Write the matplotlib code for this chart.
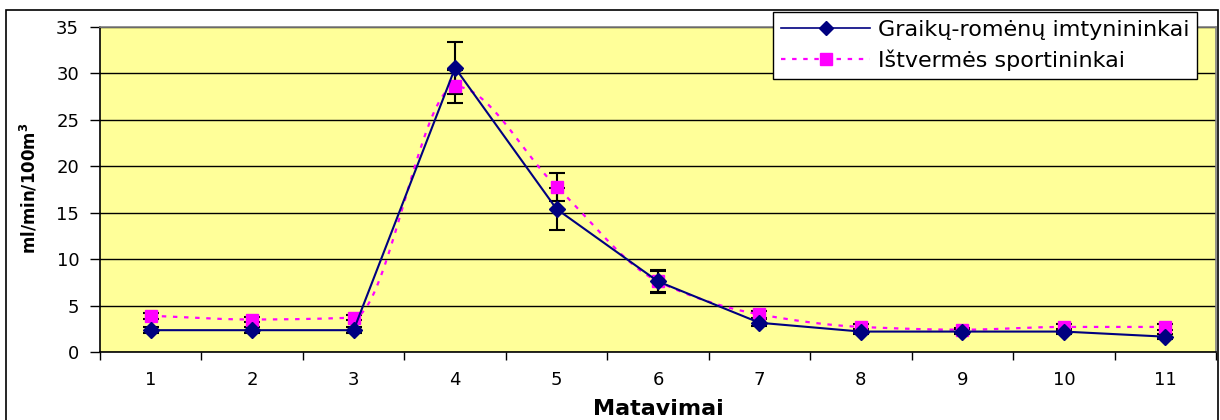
import numpy as np
import matplotlib
matplotlib.use("Agg")
import matplotlib.pyplot as plt
from matplotlib.patches import Rectangle

plt.rcParams['font.family'] = ['DejaVu Sans']
plt.rcParams['mathtext.default'] = 'regular'

# data
categories = [1, 2, 3, 4, 5, 6, 7, 8, 9, 10, 11]
grappling = [2.35, 2.35, 2.35, 30.6, 15.4, 7.6, 3.15, 2.2, 2.2, 2.2, 1.65]
grappling_err = [0.3, 0.3, 0.35, 2.8, 2.3, 1.2, 0.4, 0.3, 0.25, 0.3, 0.3]
endurance = [3.9, 3.5, 3.7, 28.6, 17.8, 7.6, 4.05, 2.7, 2.4, 2.7, 2.7]
endurance_err = [0.3, 0.3, 0.3, 1.8, 1.5, 1.1, 0.4, 0.3, 0.2, 0.3, 0.3]

NAVY = '#000080'
MAGENTA = '#FF00FF'


def smooth(x, y, n=40):
    """Monotone cubic (Fritsch-Carlson) curve through the points"""
    x = np.asarray(x, float)
    y = np.asarray(y, float)
    h = np.diff(x)
    d = np.diff(y) / h
    m = np.zeros_like(y)
    m[0], m[-1] = d[0], d[-1]
    for i in range(1, len(y) - 1):
        if d[i - 1] * d[i] > 0:
            m[i] = 2 / (1 / d[i - 1] + 1 / d[i])
    xs, ys = [], []
    t = np.linspace(0, 1, n)
    for i in range(len(h)):
        h00 = 2 * t**3 - 3 * t**2 + 1
        h10 = t**3 - 2 * t**2 + t
        h01 = -2 * t**3 + 3 * t**2
        h11 = t**3 - t**2
        xs.extend(x[i] + t * h[i])
        ys.extend(h00 * y[i] + h10 * h[i] * m[i] + h01 * y[i + 1] + h11 * h[i] * m[i + 1])
    return xs, ys


fig = plt.figure(figsize=(12.2, 4.2), dpi=100)
ax = fig.add_axes([100 / 1220, 68 / 420, 1116 / 1220, 325 / 420])
ax.set_facecolor('#FFFF99')

# outer chart frame
fig.patches.append(Rectangle((6 / 1220, -0.05), 1212 / 1220, 1.05 - 10 / 420,
                             transform=fig.transFigure, fill=False,
                             edgecolor='black', linewidth=1.2, zorder=0))

x = np.array(categories)

ax.errorbar(x, grappling, yerr=grappling_err, fmt='none', ecolor='black',
            elinewidth=1.5, capsize=5.5, capthick=1.5, zorder=3)
ax.errorbar(x, endurance, yerr=endurance_err, fmt='none', ecolor='black',
            elinewidth=1.5, capsize=5.5, capthick=1.5, zorder=3)

sx, sy = smooth(x, endurance)
ax.plot(sx, sy, color=MAGENTA, linestyle=(0, (2, 3)), linewidth=1.6, zorder=4)
ax.plot(x, endurance, linestyle='none', marker='s', markersize=8.5,
        color=MAGENTA, zorder=5)
ax.plot(x, grappling, color=NAVY, linewidth=1.5, zorder=6)
ax.plot(x, grappling, linestyle='none', marker='D', markersize=8,
        color=NAVY, zorder=7)

# legend handles
h1, = ax.plot([], [], color=NAVY, linewidth=1.2, marker='D', markersize=7)
h2, = ax.plot([], [], color=MAGENTA, linestyle=(0, (2, 3)), linewidth=1.6,
              marker='s', markersize=8)
leg = fig.legend([h1, h2], ['Graikų-romėnų imtynininkai', 'Ištvermės sportininkai'],
                 loc='upper right', bbox_to_anchor=(1197 / 1220, 1 - 12 / 420),
                 fontsize=16, frameon=True, fancybox=False, shadow=False,
                 handlelength=4.0, handletextpad=0.35, borderpad=0.35,
                 labelspacing=0.45, borderaxespad=0)
leg.get_frame().set_edgecolor('black')
leg.get_frame().set_linewidth(1.0)
leg.get_frame().set_alpha(None)

ax.set_xlim(0.5, 11.5)
ax.set_ylim(0, 35)
ax.set_yticks(np.arange(0, 36, 5))
ax.yaxis.grid(True, color='black', linewidth=1)
ax.set_axisbelow(True)

ax.set_xticks(np.arange(0.5, 12, 1))
ax.set_xticklabels([])
ax.set_xticks(x, minor=True)
ax.set_xticklabels([str(c) for c in categories], minor=True)
ax.tick_params(axis='x', which='major', length=6, width=1, direction='out')
ax.tick_params(axis='x', which='minor', length=0, pad=14, labelsize=13)
ax.tick_params(axis='y', length=7, width=1, pad=8, labelsize=13)

for side in ('left', 'bottom'):
    ax.spines[side].set_color('black')
    ax.spines[side].set_linewidth(1.2)
for side in ('top', 'right'):
    ax.spines[side].set_color('#808080')
    ax.spines[side].set_linewidth(1.2)

fig.text(658 / 1220, 1 - 399 / 420, 'Matavimai', fontsize=16, fontweight='bold',
         ha='center', va='top')
fig.text(29 / 1220, 1 - 188 / 420, 'ml/min/100m$^{\\mathbf{3}}$', fontsize=12,
         fontweight='bold', rotation=90, ha='center', va='center')

fig.savefig('out.png', dpi=100, facecolor='white')
